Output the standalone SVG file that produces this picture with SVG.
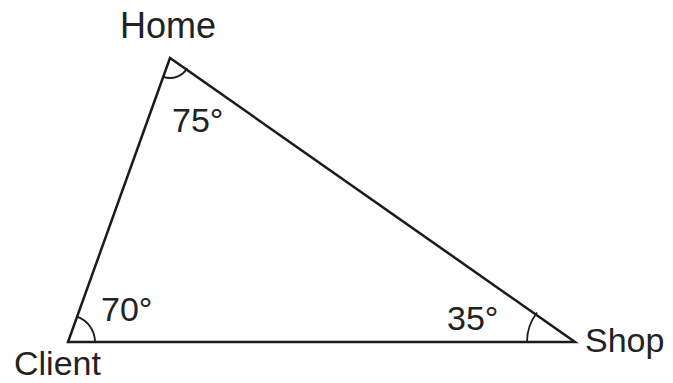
<svg xmlns="http://www.w3.org/2000/svg" width="673" height="383" viewBox="0 0 673 383">
<style>
.e{stroke:#1a1a1a;stroke-width:2.5;fill:none;stroke-linejoin:miter}
.a{stroke:#1a1a1a;stroke-width:1.8;fill:none}
.t{font-family:"Liberation Sans",Arial,sans-serif;font-size:34px;fill:#222}
</style>
<rect width="673" height="383" fill="#fff"/>
<g id="connectors">
<path class="e" d="M170,58 L68,342 L575,342 Z"/>
</g>
<g id="home">
<path class="a" d="M163.3,76.8 A20,20 0 0 0 187.2,68.2"/>
<text class="t" x="168" y="38" text-anchor="middle" style="font-size:36px">Home</text>
<text class="t" x="172" y="132">75°</text>
</g>
<g id="client">
<path class="a" d="M77.1,316.6 A27,27 0 0 1 95,342"/>
<text class="t" x="14" y="375">Client</text>
<text class="t" x="101" y="321">70°</text>
</g>
<g id="shop">
<path class="a" d="M527,342 A48,48 0 0 1 537.1,312.5"/>
<text class="t" x="585" y="352">Shop</text>
<text class="t" x="447" y="330">35°</text>
</g>
</svg>
